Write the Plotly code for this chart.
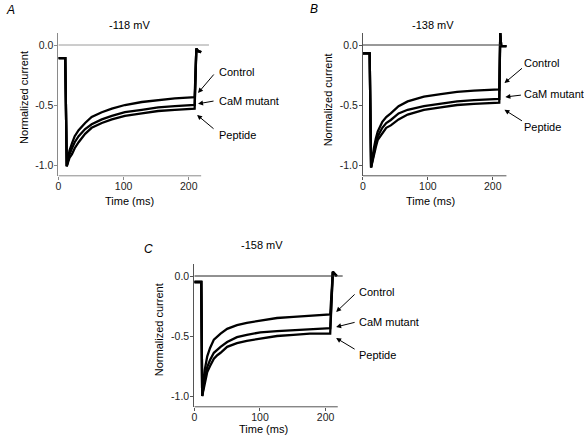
import plotly.graph_objects as go

# ---------------- data ----------------
series_names = ["Control", "CaM mutant", "Peptide"]
panel_titles = ["-118 mV", "-138 mV", "-158 mV"]
panel_letters = ["A", "B", "C"]
x_ticks = [0, 100, 200]
x_tick_labels = ["0", "100", "200"]
y_ticks = [0.0, -0.5, -1.0]
y_tick_labels = ["0.0", "-0.5", "-1.0"]

# Panel A (-118 mV)
t_a = [0, 9, 10.5, 12.8, 15, 17, 20.8, 25, 31, 36, 41, 51, 66.6, 82, 102, 128, 153,
       178.6, 204, 209, 211.6, 214, 219]
ctrl_a = [-0.11, -0.11, -0.11, -1.01, -0.93, -0.88, -0.82, -0.76, -0.71, -0.68, -0.65,
          -0.60, -0.56, -0.53, -0.50, -0.475, -0.458, -0.444, -0.436, -0.434, -0.03, -0.05, -0.06]
cam_a = [-0.11, -0.11, -0.11, -1.01, -0.95, -0.91, -0.86, -0.81, -0.76, -0.73, -0.70,
         -0.66, -0.62, -0.59, -0.56, -0.54, -0.52, -0.51, -0.50, -0.50, -0.03, -0.05, -0.06]
pep_a = [-0.11, -0.11, -0.11, -1.01, -0.97, -0.94, -0.91, -0.86, -0.81, -0.77, -0.74,
         -0.69, -0.65, -0.62, -0.59, -0.57, -0.55, -0.54, -0.53, -0.53, -0.03, -0.05, -0.06]

# Panel B (-138 mV)
t_b = [0, 8.5, 10.5, 12.7, 15, 17, 20, 23, 30, 36, 43, 55, 69, 94, 120, 145, 171, 207,
       210, 211.5, 213, 221]
ctrl_b = [-0.07, -0.07, -0.07, -1.02, -0.93, -0.86, -0.78, -0.72, -0.64, -0.60, -0.57,
          -0.51, -0.47, -0.43, -0.41, -0.39, -0.38, -0.37, -0.37, 0.10, -0.01, -0.01]
cam_b = [-0.07, -0.07, -0.07, -1.02, -0.95, -0.89, -0.82, -0.76, -0.69, -0.65, -0.625,
         -0.57, -0.54, -0.51, -0.49, -0.47, -0.46, -0.45, -0.45, 0.10, -0.01, -0.01]
pep_b = [-0.07, -0.07, -0.07, -1.02, -0.96, -0.91, -0.85, -0.79, -0.73, -0.69, -0.67,
         -0.62, -0.58, -0.54, -0.52, -0.50, -0.49, -0.48, -0.48, 0.10, -0.01, -0.01]

# Panel C (-158 mV)
t_c = [0, 8.6, 10.6, 12, 14, 16, 19.7, 24, 29.8, 35, 40, 50, 65, 80, 100.6, 126, 151,
       176, 201.5, 207, 211, 213, 217]
ctrl_c = [-0.05, -0.05, -0.05, -1.0, -0.88, -0.78, -0.67, -0.60, -0.53, -0.50, -0.48,
          -0.44, -0.41, -0.39, -0.37, -0.35, -0.34, -0.33, -0.32, -0.32, 0.035, 0.02, 0.0]
cam_c = [-0.05, -0.05, -0.05, -1.0, -0.92, -0.85, -0.76, -0.70, -0.64, -0.61, -0.59,
         -0.55, -0.51, -0.49, -0.47, -0.46, -0.45, -0.44, -0.436, -0.435, 0.035, 0.02, 0.0]
pep_c = [-0.05, -0.05, -0.05, -1.0, -0.94, -0.88, -0.80, -0.75, -0.69, -0.66, -0.64,
         -0.59, -0.56, -0.54, -0.52, -0.50, -0.49, -0.48, -0.48, -0.48, 0.035, 0.02, 0.0]

# ---------------- layout helpers ----------------
W, H = 584, 440
FONT = "Liberation Sans, Arial, sans-serif"


def fx(px):
    return px / W


def fy(py):
    return 1 - py / H


panels = [
    dict(t=t_a, ys=[ctrl_a, cam_a, pep_a], xdom=(55.7, 207.7), ydom=(33, 175.8),
         axcol="#8a8a8a", zcol="#9a9a9a", zero_end=231, axis_end=219,
         title_xy=(127, 25), letter_xy=(2, 10), ytitle_xy=(21, 97), xtitle_xy=(127, 201),
         tips=[(214.2, -0.40), (214.2, -0.49), (212.7, -0.583)],
         offs=[(17, -20), (17, -3), (18, 15)], text_x=216, text_y=[72, 101, 135]),
    dict(t=t_b, ys=[ctrl_b, cam_b, pep_b], xdom=(361.7, 513.2), ydom=(33, 175.8),
         axcol="#555555", zcol="#333333", zero_end=212, axis_end=221,
         title_xy=(432, 25), letter_xy=(308, 9), ytitle_xy=(327, 100), xtitle_xy=(430, 201),
         tips=[(218, -0.317), (219.4, -0.433), (218, -0.54)],
         offs=[(19, -16), (17, -2), (19, 12)], text_x=523, text_y=[63, 94, 127]),
    dict(t=t_c, ys=[ctrl_c, cam_c, pep_c], xdom=(192.3, 345.4), ydom=(264, 406.8),
         axcol="#555555", zcol="#222222", zero_end=226, axis_end=218.5,
         title_xy=(260, 245), letter_xy=(141, 249), ytitle_xy=(157, 330), xtitle_xy=(262, 428.5),
         tips=[(216, -0.30), (216, -0.425), (216, -0.517)],
         offs=[(20, -19), (20, -5), (20, 12)], text_x=357, text_y=[292, 322, 355]),
]

fig = go.Figure()
annotations = []
shapes = []
layout_axes = {}


def label(text, x, y, size=11, angle=0, xanchor="center"):
    return dict(text=text, xref="paper", yref="paper", x=fx(x), y=fy(y),
                xanchor=xanchor, yanchor="middle", textangle=angle, showarrow=False,
                borderpad=0, font=dict(size=size, family=FONT, color="black"))


for i, p in enumerate(panels):
    n = "" if i == 0 else str(i + 1)
    xa, ya = "x" + n, "y" + n
    for name, yv in zip(series_names, p["ys"]):
        fig.add_trace(go.Scatter(x=p["t"], y=yv, mode="lines", name=name,
                                 line=dict(color="black", width=2.3), xaxis=xa, yaxis=ya,
                                 showlegend=False, hoverinfo="skip"))
    layout_axes["xaxis" + n] = dict(
        domain=[fx(p["xdom"][0]), fx(p["xdom"][1])], range=[0, 232], anchor=ya,
        showline=False, showgrid=False, zeroline=False,
        tickvals=x_ticks, ticktext=x_tick_labels, ticks="outside", ticklen=3,
        tickcolor=p["axcol"], ticklabelstandoff=-2,
        tickfont=dict(size=10.5, color="#222", family=FONT),
    )
    layout_axes["yaxis" + n] = dict(
        domain=[fy(p["ydom"][1]), fy(p["ydom"][0])], range=[-1.09, 0.1], anchor=xa,
        showline=True, linecolor=p["axcol"], linewidth=1, showgrid=False, zeroline=False,
        tickvals=y_ticks, ticktext=y_tick_labels, ticks="outside", ticklen=3,
        tickcolor=p["axcol"], ticklabelstandoff=-1,
        tickfont=dict(size=10.5, color="#222", family=FONT),
    )
    # x-axis line (ends before the plotting range does)
    shapes.append(dict(type="line", xref=xa, yref=ya + " domain", x0=0, x1=p["axis_end"],
                       y0=0, y1=0, line=dict(color=p["axcol"], width=1)))
    # zero-current reference line
    shapes.append(dict(type="line", xref=xa, yref=ya, x0=0, x1=p["zero_end"], y0=0, y1=0,
                       line=dict(color=p["zcol"], width=1)))
    # titles and labels
    annotations.append(label(panel_titles[i], *p["title_xy"]))
    annotations.append(label("<i>" + panel_letters[i] + "</i>", *p["letter_xy"], size=12,
                             xanchor="left"))
    annotations.append(label("Normalized current", *p["ytitle_xy"], angle=-90))
    annotations.append(label("Time (ms)", *p["xtitle_xy"]))
    for name, tip, off, ty in zip(series_names, p["tips"], p["offs"], p["text_y"]):
        annotations.append(dict(text="", xref=xa, yref=ya, x=tip[0], y=tip[1],
                                ax=off[0], ay=off[1], showarrow=True, arrowhead=2,
                                arrowsize=1, arrowwidth=1, arrowcolor="black"))
        annotations.append(label(name, p["text_x"], ty, xanchor="left"))

fig.update_layout(
    width=W, height=H, margin=dict(l=0, r=0, t=0, b=0),
    paper_bgcolor="white", plot_bgcolor="white",
    font=dict(family=FONT, size=11, color="black"),
    annotations=annotations, shapes=shapes, **layout_axes,
)

fig.write_html("out.html", config={"displayModeBar": False},
               post_script="document.body.style.margin='0';")
